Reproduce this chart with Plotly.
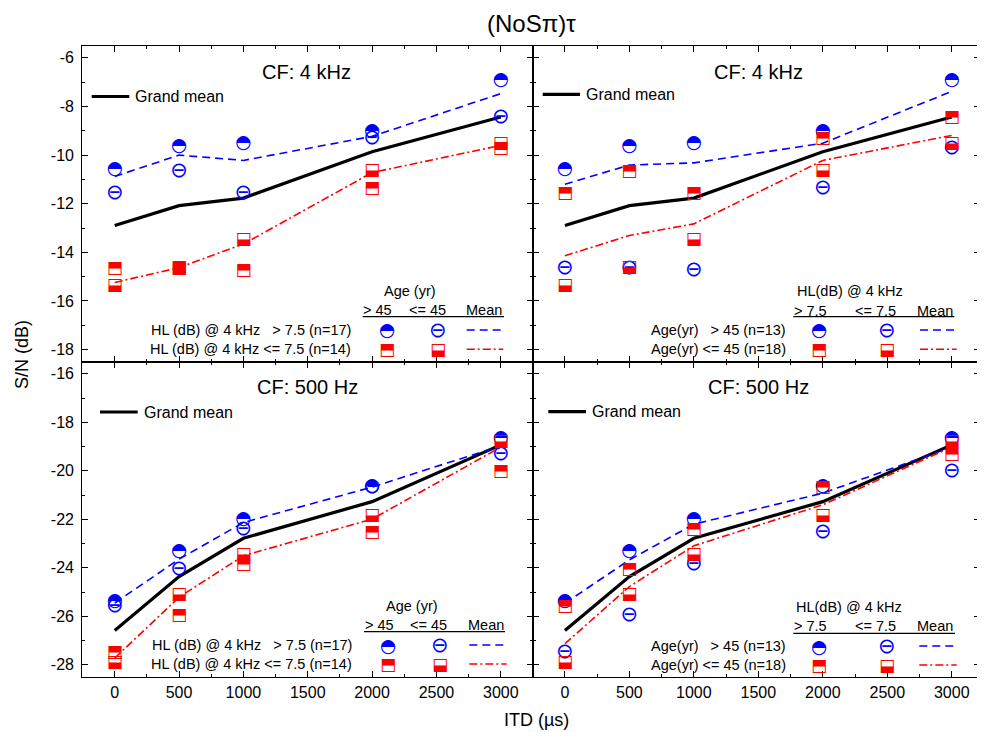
import plotly.graph_objects as go

# The page body has an 8px default margin, so the figure is sized to the visible area
OFF = 8
W, H = 985 - OFF, 732 - OFF
FONT = "Liberation Sans, Arial, sans-serif"
GLYPH_FONT = "DejaVu Sans"
BLUE = "#0000FF"
RED = "#FF0000"

# ---------------- data ----------------
itd_us = [0, 500, 1000, 2000, 3000]

# CF: 4 kHz  (S/N in dB)
cf4_hl_hi_age_old = [-10.58, -9.64, -9.53, -9.04, -6.92]
cf4_hl_hi_age_young = [-11.58, -10.69, -11.58, -9.34, -8.47]
cf4_hl_lo_age_old = [-14.66, -14.69, -14.76, -11.38, -9.76]
cf4_hl_lo_age_young = [-15.39, -14.63, -13.48, -10.64, -9.52]
cf4_mean_hl_hi = [-10.88, -10.00, -10.22, -9.23, -7.47]
cf4_mean_hl_lo = [-15.24, -14.63, -13.66, -10.72, -9.60]
cf4_mean_age_old = [-11.20, -10.41, -10.32, -9.51, -7.38]
cf4_mean_age_young = [-14.14, -13.31, -12.83, -10.22, -9.19]
cf4_grand_mean = [-12.90, -12.08, -11.77, -9.86, -8.43]

# CF: 500 Hz
cf500_hl_hi_age_old = [-25.37, -23.33, -22.02, -20.65, -18.65]
cf500_hl_hi_age_young = [-25.60, -24.08, -22.43, -20.71, -19.34]
cf500_hl_lo_age_old = [-27.49, -25.97, -23.88, -22.56, -20.03]
cf500_hl_lo_age_young = [-27.93, -25.09, -23.46, -21.86, -18.80]
cf500_mean_hl_hi = [-25.45, -23.64, -22.13, -20.67, -18.97]
cf500_mean_hl_lo = [-27.72, -25.21, -23.50, -21.99, -19.02]
cf500_mean_age_old = [-25.46, -23.67, -22.20, -20.92, -19.02]
cf500_mean_age_young = [-27.13, -24.77, -23.09, -21.40, -19.02]
cf500_grand_mean = [-26.58, -24.36, -22.78, -21.27, -18.93]

x_tickvals = [0, 500, 1000, 1500, 2000, 2500, 3000]
x_ticktext = ["0", "500", "1000", "1500", "2000", "2500", "3000"]
y_tickvals_top = [-18, -16, -14, -12, -10, -8, -6]
y_ticktext_top = ["-18", "-16", "-14", "-12", "-10", "-8", "-6"]
y_tickvals_bot = [-28, -26, -24, -22, -20, -18, -16]
y_ticktext_bot = ["-28", "-26", "-24", "-22", "-20", "-18", "-16"]

# ---------------- layout helpers (window pixel -> paper) ----------------
def px_x(p):
    return (p - OFF) / W


def px_y(p):
    return 1 - (p - OFF) / H


X_LEFT = [px_x(82.3), px_x(532.7)]
X_RIGHT = [px_x(532.7), px_x(980.5)]
Y_TOP = [px_y(361.7), px_y(45.7)]
Y_BOT = [px_y(677.0), px_y(361.7)]

XR_LEFT = [-252, 3248]
XR_RIGHT = [-250, 3223]
YR_TOP = [-18.5, -5.5]
YR_BOT = [-28.5, -15.5]

fig = go.Figure()

GLYPH_FILLED_CIRCLE = "\u25D3"   # circle, upper half black
GLYPH_OPEN_CIRCLE = "\u2296"     # circled minus
GLYPH_TOP_SQUARE = "\u2B12"      # square, top half black
GLYPH_BOT_SQUARE = "\u2B13"      # square, bottom half black
GSIZE = {GLYPH_FILLED_CIRCLE: 18.5, GLYPH_OPEN_CIRCLE: 21,
         GLYPH_TOP_SQUARE: 17, GLYPH_BOT_SQUARE: 17}


def add_line(y, xa, ya, color, width, dash):
    fig.add_trace(go.Scatter(x=itd_us, y=y, xaxis=xa, yaxis=ya, mode="lines",
                             line=dict(color=color, width=width, dash=dash),
                             showlegend=False, hoverinfo="skip"))


def add_pts(y, xa, ya, glyph, color):
    fig.add_trace(go.Scatter(x=itd_us, y=y, xaxis=xa, yaxis=ya, mode="text",
                             text=[glyph] * len(itd_us), textposition="middle center",
                             textfont=dict(family=GLYPH_FONT, size=GSIZE[glyph], color=color),
                             showlegend=False, hoverinfo="skip"))


DASH_BLUE = "8px,5px"
DASH_RED = "8px,3px,2px,3px"

panels = [
    ("x", "y", cf4_hl_hi_age_old, cf4_hl_hi_age_young, cf4_hl_lo_age_old, cf4_hl_lo_age_young,
     cf4_mean_hl_hi, cf4_mean_hl_lo, cf4_grand_mean),
    ("x2", "y2", cf4_hl_hi_age_old, cf4_hl_lo_age_old, cf4_hl_hi_age_young, cf4_hl_lo_age_young,
     cf4_mean_age_old, cf4_mean_age_young, cf4_grand_mean),
    ("x3", "y3", cf500_hl_hi_age_old, cf500_hl_hi_age_young, cf500_hl_lo_age_old, cf500_hl_lo_age_young,
     cf500_mean_hl_hi, cf500_mean_hl_lo, cf500_grand_mean),
    ("x4", "y4", cf500_hl_hi_age_old, cf500_hl_lo_age_old, cf500_hl_hi_age_young, cf500_hl_lo_age_young,
     cf500_mean_age_old, cf500_mean_age_young, cf500_grand_mean),
]

for xa, ya, s1, s2, s3, s4, mb, mr, gm in panels:
    add_line(gm, xa, ya, "black", 3.2, "solid")
    add_line(mb, xa, ya, BLUE, 1.6, DASH_BLUE)
    add_line(mr, xa, ya, RED, 1.6, DASH_RED)
    add_pts(s1, xa, ya, GLYPH_FILLED_CIRCLE, BLUE)
    add_pts(s2, xa, ya, GLYPH_OPEN_CIRCLE, BLUE)
    add_pts(s3, xa, ya, GLYPH_TOP_SQUARE, RED)
    add_pts(s4, xa, ya, GLYPH_BOT_SQUARE, RED)


def xaxis(domain, rng, anchor, labels):
    return dict(domain=domain, range=rng, anchor=anchor, showline=True, linecolor="black",
                linewidth=1.3, mirror="ticks", ticks="inside", ticklen=6, tickwidth=1.3,
                tickcolor="black", tickmode="array", tickvals=x_tickvals, ticktext=x_ticktext,
                showgrid=False, zeroline=False, showticklabels=labels, ticklabelstandoff=1,
                automargin=False,
                tickfont=dict(family=FONT, size=16, color="black"),
                minor=dict(ticks="inside", ticklen=3, tickwidth=1.3, tickcolor="black",
                           tickmode="linear", tick0=0, dtick=250, showgrid=False))


def yaxis(domain, rng, anchor, labels, tv, tt):
    return dict(domain=domain, range=rng, anchor=anchor, showline=True, linecolor="black",
                linewidth=1.3, mirror="ticks", ticks="inside", ticklen=6, tickwidth=1.3,
                tickcolor="black", tickmode="array", tickvals=tv, ticktext=tt,
                showgrid=False, zeroline=False, showticklabels=labels, ticklabelstandoff=4,
                automargin=False,
                tickfont=dict(family=FONT, size=16, color="black"),
                minor=dict(ticks="inside", ticklen=3, tickwidth=1.3, tickcolor="black",
                           tickmode="linear", tick0=0, dtick=1, showgrid=False))


fig.update_layout(
    width=W, height=H, margin=dict(l=0, r=0, t=0, b=0, autoexpand=False),
    paper_bgcolor="white", plot_bgcolor="white", showlegend=False,
    xaxis=xaxis(X_LEFT, XR_LEFT, "y", False),
    yaxis=yaxis(Y_TOP, YR_TOP, "x", True, y_tickvals_top, y_ticktext_top),
    xaxis2=xaxis(X_RIGHT, XR_RIGHT, "y2", False),
    yaxis2=yaxis(Y_TOP, YR_TOP, "x2", False, y_tickvals_top, y_ticktext_top),
    xaxis3=xaxis(X_LEFT, XR_LEFT, "y3", True),
    yaxis3=yaxis(Y_BOT, YR_BOT, "x3", True, y_tickvals_bot, y_ticktext_bot),
    xaxis4=xaxis(X_RIGHT, XR_RIGHT, "y4", True),
    yaxis4=yaxis(Y_BOT, YR_BOT, "x4", False, y_tickvals_bot, y_ticktext_bot),
)

annotations = []
shapes = []


def text(x, y, s, size, xanchor="center", angle=0, family=FONT, color="black"):
    annotations.append(dict(x=px_x(x), y=px_y(y), xref="paper", yref="paper", text=s,
                            showarrow=False, xanchor=xanchor, yanchor="middle",
                            textangle=angle, font=dict(family=family, size=size, color=color)))


def hline(x0, x1, y, color, width, dash="solid"):
    shapes.append(dict(type="line", xref="paper", yref="paper", x0=px_x(x0), x1=px_x(x1),
                       y0=px_y(y), y1=px_y(y), line=dict(color=color, width=width, dash=dash)))


# global titles
text(531, 24, "(NoS\u03c0)\u03c4", 24)
text(536, 720, "ITD (\u00b5s)", 18)
text(22, 355, "S/N (dB)", 18, angle=-90)

# panel titles + grand mean keys
for cx, cy, s in [(306.7, 71.7, "CF: 4 kHz"), (758.3, 71.7, "CF: 4 kHz"),
                  (307.7, 386.7, "CF: 500 Hz"), (758.3, 386.7, "CF: 500 Hz")]:
    text(cx, cy, s, 20)

for lx0, lx1, ly, tx in [(91.7, 129.3, 96.5, 133.3), (542.7, 580.0, 94.3, 584.0),
                         (100.0, 137.7, 412.0, 141.7), (548.3, 586.0, 411.7, 590.0)]:
    hline(lx0, lx1, ly, "black", 3.2)
    text(tx, ly, "Grand mean", 16, xanchor="left")


def legend(title, tx, ty, heads, hy, ul, rows, rx, ry, c1, c2, lx):
    text(tx, ty, title, 14.5)
    for (hx, hs) in heads:
        text(hx, hy, hs, 14.5)
    hline(ul[0], ul[1], ul[2], "black", 1.3)
    text(rx, ry[0], rows[0], 14.5, xanchor="right")
    text(rx, ry[1], rows[1], 14.5, xanchor="right")
    text(c1, ry[0], GLYPH_FILLED_CIRCLE, GSIZE[GLYPH_FILLED_CIRCLE], family=GLYPH_FONT, color=BLUE)
    text(c2, ry[0], GLYPH_OPEN_CIRCLE, GSIZE[GLYPH_OPEN_CIRCLE], family=GLYPH_FONT, color=BLUE)
    text(c1, ry[1], GLYPH_TOP_SQUARE, GSIZE[GLYPH_TOP_SQUARE], family=GLYPH_FONT, color=RED)
    text(c2, ry[1], GLYPH_BOT_SQUARE, GSIZE[GLYPH_BOT_SQUARE], family=GLYPH_FONT, color=RED)
    hline(lx[0], lx[1], ry[0], BLUE, 1.6, DASH_BLUE)
    hline(lx[0], lx[1], ry[1], RED, 1.6, DASH_RED)


HL_ROWS = ["HL (dB) @ 4 kHz \u00a0 &gt; 7.5 (n=17)", "HL (dB) @ 4 kHz &lt;= 7.5 (n=14)"]
AGE_ROWS = ["Age(yr) \u00a0 &gt; 45 (n=13)", "Age(yr) &lt;= 45 (n=18)"]

legend("Age (yr)", 410, 290.7, [(377, "&gt; 45"), (427, "&lt;= 45"), (484, "Mean")], 310,
       (362.7, 504, 316.7), HL_ROWS, 352.7, (330, 349.3), 386.7, 438.3, (466.7, 503.3))
legend("HL(dB) @ 4 kHz", 850, 290.7, [(810, "&gt; 7.5"), (875.7, "&lt;= 7.5"), (935, "Mean")], 311,
       (793.3, 954.3, 316.7), AGE_ROWS, 788.3, (330, 349.3), 818.7, 886.7, (920, 956.7))
legend("Age (yr)", 411.7, 606, [(379, "&gt; 45"), (428, "&lt;= 45"), (486, "Mean")], 625,
       (364, 505, 631.7), HL_ROWS, 354, (645, 664), 388.3, 440, (469.3, 506.7))
legend("HL(dB) @ 4 kHz", 849.3, 606.7, [(810, "&gt; 7.5"), (875.7, "&lt;= 7.5"), (935, "Mean")], 626,
       (793.3, 955, 633.3), AGE_ROWS, 788.3, (646, 665), 818.7, 886.7, (919.3, 956.7))

fig.update_layout(annotations=annotations, shapes=shapes)
fig.write_html("out.html")
